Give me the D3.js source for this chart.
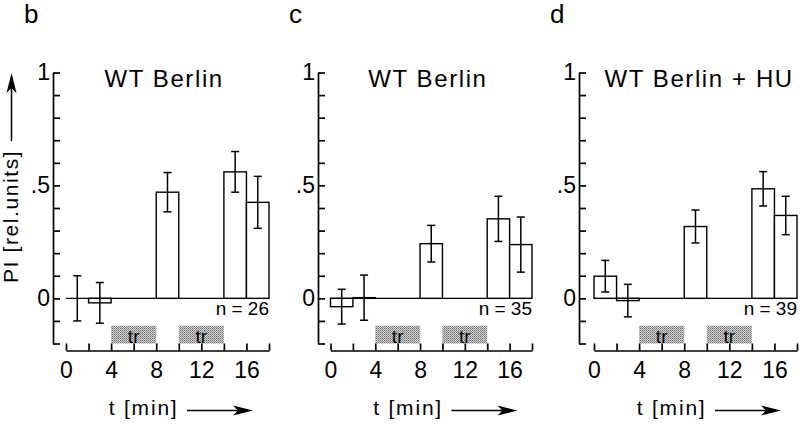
<!DOCTYPE html>
<html><head><meta charset="utf-8">
<script src="https://cdn.jsdelivr.net/npm/d3@7"></script>
<style>body{margin:0;background:#fff}svg{display:block}</style>
</head><body><svg id="chart" width="800" height="424"></svg>
<script>
// ---------- data ----------
const panelLetters = ["b", "c", "d"];
const titles = ["WT Berlin", "WT Berlin", "WT Berlin + HU"];
const nLabels = ["n = 26", "n = 35", "n = 39"];
const binStarts = [0, 2, 8, 14, 16];
const binWidth = 2;
const piB = [0.0, -0.02, 0.47, 0.56, 0.425];
const errB = [0.10, 0.09, 0.087, 0.09, 0.115];
const piC = [-0.037, 0.003, 0.242, 0.352, 0.238];
const errC = [0.077, 0.10, 0.081, 0.10, 0.122];
const piD = [0.098, -0.01, 0.318, 0.485, 0.367];
const errD = [0.07, 0.072, 0.073, 0.076, 0.085];
const trainingStarts = [4, 10];
const trainingEnds = [8, 14];
const trainingLabel = "tr";
const xTickValues = [0, 2, 4, 6, 8, 10, 12, 14, 16, 18];
const xLabelValues = [0, 4, 8, 12, 16];
const yTickValues = [-0.2, -0.1, 0, 0.1, 0.2, 0.3, 0.4, 0.5, 0.6, 0.7, 0.8, 0.9, 1.0];
const yLabelValues = [0, 0.5, 1];
const yLabelTexts = ["0", ".5", "1"];
const xAxisTitle = "t [min]";
const yAxisTitle = "PI [rel.units]";

const seriesValues = [piB, piC, piD];
const seriesErrors = [errB, errC, errD];

// ---------- layout ----------
const layout = [
  { ya: 53,  x0: 66,    x1: 269, tdx: 0 },
  { ya: 318, x0: 330.5, x1: 532, tdx: 0 },
  { ya: 579, x0: 594,   x1: 797, tdx: 7 }
];
const FONT = "'Liberation Sans', Arial, Helvetica, sans-serif";
const yTop = 72.5, yBottom = 343.5, xAxisY = 350.5;

const svg = d3.select("#chart");
const defs = svg.append("defs");
const pat = defs.append("pattern").attr("id", "stip").attr("width", 2).attr("height", 2)
  .attr("patternUnits", "userSpaceOnUse");
pat.append("rect").attr("width", 2).attr("height", 2).attr("fill", "#d4d4d4");
pat.append("rect").attr("x", 0).attr("y", 0).attr("width", 1).attr("height", 1).attr("fill", "#707070");
pat.append("rect").attr("x", 1).attr("y", 1).attr("width", 1).attr("height", 1).attr("fill", "#909090");

const y = d3.scaleLinear().domain([-0.2, 1]).range([yBottom, yTop]);

function arrowHead(g, tipX, tipY, dir) {
  const L = 20, W = 5;
  let d;
  if (dir === "right") {
    d = `M${tipX},${tipY} L${tipX - L},${tipY - W} L${tipX - L + 5},${tipY} L${tipX - L},${tipY + W} Z`;
  } else {
    d = `M${tipX},${tipY} L${tipX - W},${tipY + L} L${tipX},${tipY + L - 5} L${tipX + W},${tipY + L} Z`;
  }
  g.append("path").attr("d", d).attr("fill", "#000");
}

layout.forEach((L, p) => {
  const g = svg.append("g");
  const x = d3.scaleLinear().domain([0, 18]).range([L.x0, L.x1]);
  const vals = seriesValues[p], errs = seriesErrors[p];

  // panel letter
  g.append("text").attr("x", L.ya - 29).attr("y", 23).attr("font-family", FONT)
    .attr("font-size", 26).text(panelLetters[p]);

  // title
  g.append("text").attr("x", x(8.7) + L.tdx).attr("y", 87).attr("text-anchor", "middle")
    .attr("font-family", FONT).attr("font-size", 24).attr("letter-spacing", 1.6)
    .text(titles[p]);

  // training boxes
  trainingStarts.forEach((s, i) => {
    g.append("rect").attr("x", x(s)).attr("width", x(trainingEnds[i]) - x(s))
      .attr("y", y(-0.121)).attr("height", y(-0.2) - y(-0.121))
      .attr("fill", "url(#stip)");
    g.append("text").attr("x", x((s + trainingEnds[i]) / 2)).attr("y", y(-0.196))
      .attr("text-anchor", "middle").attr("font-family", FONT).attr("font-size", 19)
      .text(trainingLabel);
  });

  // zero line
  g.append("line").attr("x1", x(0)).attr("x2", x(18)).attr("y1", y(0)).attr("y2", y(0))
    .attr("stroke", "#000").attr("stroke-width", 1.4);

  // bars
  binStarts.forEach((s, i) => {
    const v = vals[i];
    g.append("rect").attr("x", x(s)).attr("width", x(s + binWidth) - x(s))
      .attr("y", y(Math.max(v, 0))).attr("height", Math.abs(y(v) - y(0)))
      .attr("fill", "#fff").attr("stroke", "#000").attr("stroke-width", 1.4);
  });
  // error bars
  binStarts.forEach((s, i) => {
    const v = vals[i], e = errs[i], cx = x(s + binWidth / 2);
    const eg = g.append("g").attr("stroke", "#000").attr("stroke-width", 1.5);
    eg.append("line").attr("x1", cx).attr("x2", cx).attr("y1", y(v + e)).attr("y2", y(v - e));
    eg.append("line").attr("x1", cx - 4).attr("x2", cx + 4).attr("y1", y(v + e)).attr("y2", y(v + e));
    eg.append("line").attr("x1", cx - 4).attr("x2", cx + 4).attr("y1", y(v - e)).attr("y2", y(v - e));
  });

  // n label
  g.append("text").attr("x", x(18)).attr("y", 315).attr("text-anchor", "end")
    .attr("font-family", FONT).attr("font-size", 19)
    .text(nLabels[p]);

  // y axis
  const yAxis = d3.axisLeft(y).tickValues(yTickValues).tickSizeInner(-7).tickSizeOuter(0)
    .tickPadding(3)
    .tickFormat(d => {
      const k = yLabelValues.findIndex(v => Math.abs(v - d) < 1e-6);
      return k >= 0 ? yLabelTexts[k] : "";
    });
  const ya = g.append("g").attr("transform", `translate(${L.ya},0)`).call(yAxis);
  ya.selectAll("path,line").attr("stroke", "#000").attr("stroke-width", 1.7);
  ya.selectAll("text").attr("font-family", FONT).attr("font-size", 23).attr("fill", "#000");

  // x axis
  const xAxis = d3.axisBottom(x).tickValues(xTickValues).tickSizeInner(-7).tickSizeOuter(0)
    .tickPadding(11)
    .tickFormat(d => xLabelValues.includes(d) ? String(d) : "");
  const xa = g.append("g").attr("transform", `translate(0,${xAxisY})`).call(xAxis);
  xa.selectAll("path,line").attr("stroke", "#000").attr("stroke-width", 1.7);
  xa.selectAll("text").attr("font-family", FONT).attr("font-size", 23).attr("fill", "#000");

  // x axis title + arrow
  g.append("text").attr("x", x(0) + 112.5).attr("y", 415).attr("text-anchor", "end")
    .attr("font-family", FONT).attr("font-size", 21).attr("letter-spacing", 1.8).text(xAxisTitle);
  g.append("line").attr("x1", x(0) + 121).attr("x2", x(0) + 175).attr("y1", 410.5).attr("y2", 410.5)
    .attr("stroke", "#000").attr("stroke-width", 1.5);
  arrowHead(g, x(0) + 187, 410.5, "right");

  if (p === 0) {
    const yl = g.append("g");
    yl.append("text").attr("transform", "translate(18,283) rotate(-90)")
      .attr("font-family", FONT).attr("font-size", 21).attr("letter-spacing", 1.6).text(yAxisTitle);
    yl.append("line").attr("x1", 11.5).attr("x2", 11.5).attr("y1", 141).attr("y2", 88)
      .attr("stroke", "#000").attr("stroke-width", 1.5);
    arrowHead(yl, 11.5, 73, "up");
  }
});
</script>
</body></html>
